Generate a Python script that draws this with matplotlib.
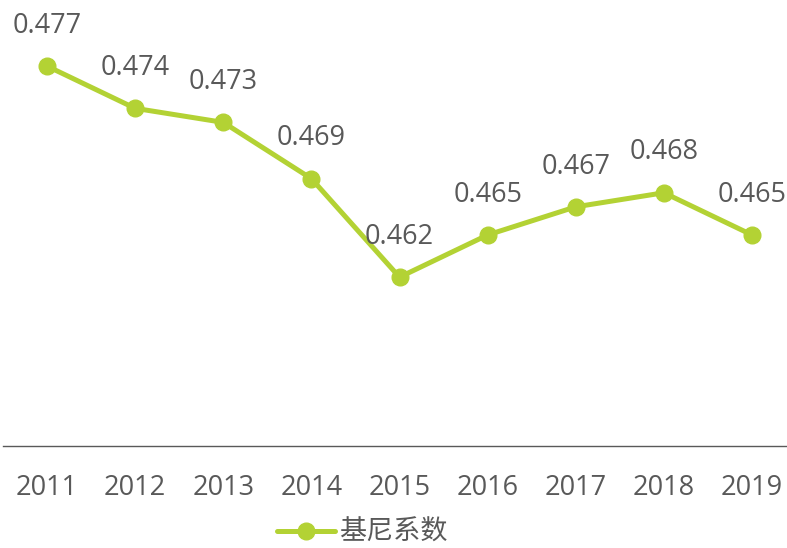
import matplotlib
matplotlib.use("Agg")
import matplotlib.pyplot as plt

plt.rcParams['font.family'] = ['Open Sans', 'Noto Sans CJK SC', 'DejaVu Sans']

years = [2011, 2012, 2013, 2014, 2015, 2016, 2017, 2018, 2019]
gini = [0.477, 0.474, 0.473, 0.469, 0.462, 0.465, 0.467, 0.468, 0.465]
series_name = '基尼系数'

green = '#b3d234'
gray = '#595959'

W, H = 787, 548
fig = plt.figure(figsize=(W / 100, H / 100), dpi=100)
ax = fig.add_axes([3 / W, (H - 446) / H, 784 / W, 446 / H])

ax.plot(years, gini, color=green, lw=3.6, marker='o', ms=12, label=series_name,
        solid_capstyle='round', clip_on=False)
for x, v in zip(years, gini):
    ax.annotate('%.3f' % v, (x, v), xytext=(0, 29), textcoords='offset points',
                ha='center', va='center', fontsize=19.5, color=gray)

ax.set_xlim(2010.5, 2019.397)
ax.set_ylim(0.45, 0.4817)
ax.set_xticks(years)
ax.set_xticklabels([str(y) for y in years], fontsize=19.5, color=gray)
ax.tick_params(axis='x', length=0, pad=20)
ax.set_yticks([])
for s in ['top', 'right', 'left']:
    ax.spines[s].set_visible(False)
ax.spines['bottom'].set_color(gray)
ax.spines['bottom'].set_linewidth(1.0)

leg = fig.legend(loc='center', bbox_to_anchor=(362 / W, (H - 533) / H), frameon=False,
                 fontsize=19.5, handlelength=2.15, handletextpad=0.15, labelcolor=gray)

fig.savefig('out.png', dpi=100)
